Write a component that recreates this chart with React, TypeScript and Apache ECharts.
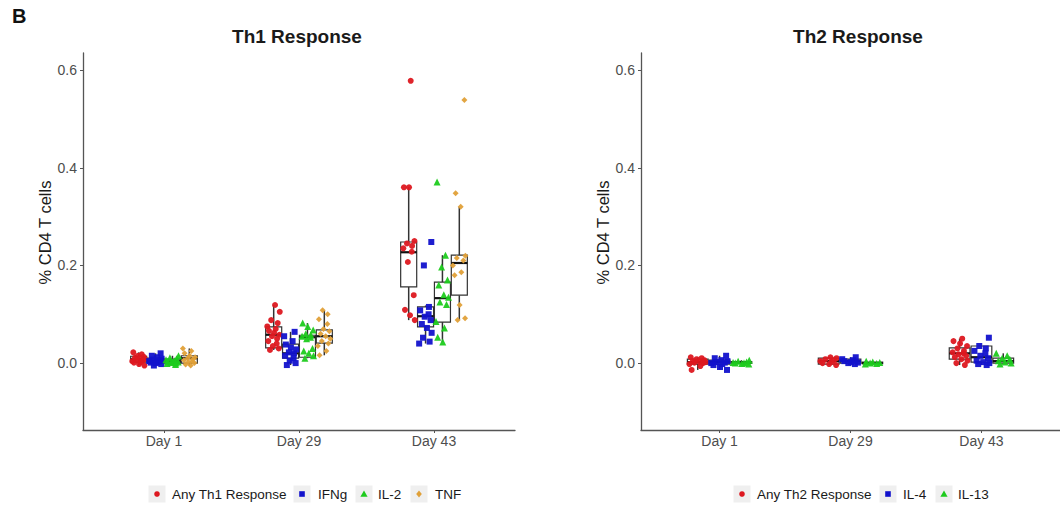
import React, { useEffect, useRef } from "react";
import * as echarts from "echarts";

// ---------------- data ----------------
const DAYS = ["Day 1", "Day 29", "Day 43"];
const Y_TICKS = [0, 0.2, 0.4, 0.6];
const Y_MIN = -0.137;
const Y_MAX = 0.635;

const TH1_NAMES = ["Any Th1 Response", "IFNg", "IL-2", "TNF"];
const TH2_NAMES = ["Any Th2 Response", "IL-4", "IL-13"];

// jittered observations, one list per day (Day 1, Day 29, Day 43)
const ANY_TH1 = [
  [0.022, 0.018, 0.015, 0.013, 0.011, 0.009, 0.008, 0.007, 0.005, 0.004, 0.002, 0.001, -0.002, -0.005],
  [0.119, 0.105, 0.088, 0.082, 0.075, 0.07, 0.066, 0.062, 0.058, 0.055, 0.05, 0.045, 0.04, 0.035, 0.03, 0.027],
  [0.578, 0.36, 0.36, 0.25, 0.245, 0.24, 0.235, 0.228, 0.207, 0.139, 0.109, 0.098, 0.088],
];
const IFNG = [
  [0.02, 0.015, 0.012, 0.009, 0.007, 0.005, 0.004, 0.002, 0.001, 0, -0.002, -0.005],
  [0.064, 0.055, 0.045, 0.038, 0.032, 0.028, 0.022, 0.02, 0.015, 0.01, 0.005, 0.0, -0.004],
  [0.248, 0.2, 0.115, 0.108, 0.1, 0.095, 0.088, 0.08, 0.072, 0.062, 0.052, 0.044, 0.04],
];
const IL2 = [
  [0.015, 0.011, 0.009, 0.007, 0.005, 0.004, 0.003, 0.002, 0.001, 0, -0.001, -0.003],
  [0.082, 0.075, 0.068, 0.06, 0.058, 0.055, 0.053, 0.05, 0.03, 0.025, 0.02, 0.015, 0.01],
  [0.371, 0.221, 0.197, 0.17, 0.16, 0.14, 0.135, 0.125, 0.12, 0.085, 0.072, 0.053, 0.043],
];
const TNF = [
  [0.03, 0.025, 0.02, 0.015, 0.012, 0.01, 0.008, 0.006, 0.004, 0.002, 0, -0.003, -0.005],
  [0.108, 0.1, 0.09, 0.08, 0.07, 0.065, 0.06, 0.055, 0.05, 0.045, 0.04, 0.035, 0.025, 0.016],
  [0.539, 0.348, 0.32, 0.22, 0.215, 0.21, 0.2, 0.186, 0.18, 0.119, 0.092, 0.088],
];

const ANY_TH2 = [
  [0.012, 0.01, 0.008, 0.006, 0.004, 0.003, 0.002, 0.001, 0, -0.002, -0.006, -0.014],
  [0.012, 0.01, 0.008, 0.006, 0.004, 0.002, 0, -0.002, -0.004],
  [0.05, 0.045, 0.04, 0.035, 0.03, 0.025, 0.022, 0.02, 0.018, 0.015, 0.012, 0.008, 0.005, 0.0, -0.004],
];
const IL4 = [
  [0.015, 0.01, 0.006, 0.004, 0.002, 0.001, 0, -0.002, -0.004, -0.008, -0.014],
  [0.012, 0.008, 0.006, 0.004, 0.002, 0.001, 0, -0.002],
  [0.052, 0.035, 0.03, 0.025, 0.02, 0.015, 0.01, 0.005, 0.002, 0, -0.002, -0.004],
];
const IL13 = [
  [0.006, 0.004, 0.002, 0.001, 0, 0, -0.001, -0.002],
  [0.004, 0.002, 0.001, 0, -0.001, -0.002],
  [0.02, 0.015, 0.01, 0.008, 0.005, 0.002, 0, -0.002],
];

// box statistics per day: [lower whisker, Q1, median, Q3, upper whisker]
const ANY_TH1_BOX = [
  [-0.005, 0.002, 0.008, 0.014, 0.022],
  [0.027, 0.031, 0.058, 0.074, 0.119],
  [0.088, 0.156, 0.227, 0.248, 0.36],
];
const IFNG_BOX = [
  [-0.005, 0.0, 0.005, 0.01, 0.02],
  [-0.004, 0.01, 0.02, 0.039, 0.064],
  [0.04, 0.074, 0.096, 0.115, 0.118],
];
const IL2_BOX = [
  [-0.003, 0.0, 0.004, 0.008, 0.015],
  [0.01, 0.012, 0.053, 0.057, 0.082],
  [0.043, 0.084, 0.133, 0.166, 0.221],
];
const TNF_BOX = [
  [-0.005, 0.0, 0.01, 0.015, 0.03],
  [0.016, 0.041, 0.055, 0.068, 0.108],
  [0.088, 0.139, 0.205, 0.221, 0.32],
];
const ANY_TH2_BOX = [
  [-0.014, -0.002, 0.002, 0.008, 0.012],
  [-0.004, -0.002, 0.004, 0.01, 0.012],
  [-0.004, 0.008, 0.02, 0.031, 0.05],
];
const IL4_BOX = [
  [-0.014, -0.002, 0.002, 0.006, 0.015],
  [-0.002, 0.0, 0.004, 0.008, 0.012],
  [-0.004, 0.002, 0.012, 0.035, 0.035],
];
const IL13_BOX = [
  [-0.002, 0.0, 0.001, 0.003, 0.006],
  [-0.002, -0.001, 0.0, 0.002, 0.004],
  [-0.002, 0.0, 0.004, 0.01, 0.02],
];

// ---------------- styling ----------------
const COLORS1 = ["#dd1820", "#1212cc", "#1ecb1e", "#e0a038"];
const SYMBOLS1 = ["circle", "rect", "triangle", "diamond"];
const COLORS2 = ["#dd1820", "#1212cc", "#1ecb1e"];
const SYMBOLS2 = ["circle", "rect", "triangle"];
// fixed jitter pattern (fraction of a dodge slot)
const JITTER = [-0.32, 0.18, -0.05, 0.3, -0.22, 0.08, 0.36, -0.15, 0.24, -0.38, 0.12, -0.28, 0.02, 0.34, -0.1, 0.2];

const FONT = "Liberation Sans, Arial, Helvetica, sans-serif";
const AXIS_COLOR = "#555555";

function makePanel(
  gridIndex: number,
  names: string[],
  points: number[][][],
  boxes: number[][][],
  colors: string[],
  symbols: string[]
) {
  const n = names.length;
  const dodge = 0.5;
  const slot = dodge / n;
  const boxW = slot * 0.95;
  const series: any[] = [];
  const scatters: any[] = [];
  names.forEach((name, g) => {
    const off = -dodge / 2 + slot * (g + 0.5);
    const boxData = boxes[g].map((b, d) => [d + 1 + off, ...b]);
    series.push({
      type: "custom",
      name: name + " box",
      xAxisIndex: gridIndex,
      yAxisIndex: gridIndex,
      encode: { x: 0, y: [1, 2, 3, 4, 5] },
      data: boxData,
      silent: true,
      renderItem: (params: any, api: any) => {
        const x = api.value(0);
        const pLo = api.coord([x, api.value(1)]);
        const pQ1 = api.coord([x, api.value(2)]);
        const pMed = api.coord([x, api.value(3)]);
        const pQ3 = api.coord([x, api.value(4)]);
        const pHi = api.coord([x, api.value(5)]);
        const w = api.size([boxW, 0])[0];
        const cx = pLo[0];
        const stroke = "#333333";
        return {
          type: "group",
          children: [
            { type: "line", shape: { x1: cx, y1: pHi[1], x2: cx, y2: pQ3[1] }, style: { stroke, lineWidth: 1.5 } },
            { type: "line", shape: { x1: cx, y1: pQ1[1], x2: cx, y2: pLo[1] }, style: { stroke, lineWidth: 1.5 } },
            {
              type: "rect",
              shape: { x: cx - w / 2, y: pQ3[1], width: w, height: Math.max(pQ1[1] - pQ3[1], 0.5) },
              style: { fill: "#ffffff", stroke, lineWidth: 1.2 },
            },
            {
              type: "line",
              shape: { x1: cx - w / 2, y1: pMed[1], x2: cx + w / 2, y2: pMed[1] },
              style: { stroke: "#111111", lineWidth: 2.2 },
            },
          ],
        };
      },
    });
    const pts: number[][] = [];
    points[g].forEach((vals, d) => {
      vals.forEach((v, i) => {
        const j = JITTER[(i + g * 3 + d * 5) % JITTER.length];
        pts.push([d + 1 + off + j * slot, v]);
      });
    });
    scatters.push({
      type: "scatter",
      name,
      xAxisIndex: gridIndex,
      yAxisIndex: gridIndex,
      data: pts,
      symbol: symbols[g],
      symbolSize: symbols[g] === "triangle" ? 7 : 6,
      itemStyle: { color: colors[g], opacity: 0.95 },
      silent: true,
      z: 3,
    });
  });
  return [...series, ...scatters];
}

function legendSymbol(sym: string, cx: number, cy: number, color: string) {
  const style = { fill: color };
  if (sym === "circle") return { type: "circle", shape: { cx, cy, r: 2.8 }, style };
  if (sym === "rect") return { type: "rect", shape: { x: cx - 2.8, y: cy - 2.8, width: 5.6, height: 5.6 }, style };
  if (sym === "triangle")
    return { type: "polygon", shape: { points: [[cx, cy - 3.6], [cx + 3.6, cy + 2.8], [cx - 3.6, cy + 2.8]] }, style };
  return { type: "polygon", shape: { points: [[cx, cy - 3.4], [cx + 2.8, cy], [cx, cy + 3.4], [cx - 2.8, cy]] }, style };
}

function makeLegend(names: string[], colors: string[], symbols: string[], iconX: number[], textX: number[], cy: number) {
  const els: any[] = [];
  names.forEach((name, i) => {
    els.push({ type: "rect", shape: { x: iconX[i] - 8.5, y: cy - 8.5, width: 17, height: 17 }, style: { fill: "#efefef" } });
    els.push(legendSymbol(symbols[i], iconX[i], cy, colors[i]));
    els.push({
      type: "text",
      x: textX[i],
      y: cy,
      style: { text: name, fill: "#1a1a1a", font: `13.5px ${FONT}`, verticalAlign: "middle", align: "left" },
    });
  });
  return els;
}

function xAxisCfg(gridIndex: number) {
  return {
    type: "value",
    gridIndex,
    min: 0.4,
    max: 3.6,
    axisLine: { show: true, onZero: false, lineStyle: { color: AXIS_COLOR, width: 1.3 } },
    axisTick: { show: true, customValues: [1, 2, 3], length: 3, lineStyle: { color: AXIS_COLOR } },
    axisLabel: {
      customValues: [1, 2, 3],
      formatter: (v: number) => DAYS[Math.round(v) - 1],
      color: "#4d4d4d",
      fontSize: 14,
      fontFamily: FONT,
      margin: 4,
    },
    splitLine: { show: false },
  };
}

function yAxisCfg(gridIndex: number) {
  return {
    type: "value",
    gridIndex,
    min: Y_MIN,
    max: Y_MAX,
    name: "% CD4 T cells",
    nameLocation: "middle",
    nameRotate: 90,
    nameGap: 30,
    nameTextStyle: { color: "#1a1a1a", fontSize: 16.5, fontFamily: FONT, padding: [0, 0, 0, 18] },
    axisLine: { show: true, onZero: false, lineStyle: { color: AXIS_COLOR, width: 1.3 } },
    axisTick: { show: true, customValues: Y_TICKS, length: 3, lineStyle: { color: AXIS_COLOR } },
    axisLabel: {
      customValues: Y_TICKS,
      formatter: (v: number) => v.toFixed(1),
      color: "#4d4d4d",
      fontSize: 14,
      fontFamily: FONT,
      margin: 6,
    },
    splitLine: { show: false },
  };
}

export default function App() {
  const ref = useRef<HTMLDivElement>(null);
  useEffect(() => {
    if (!ref.current) return;
    const chart = echarts.init(ref.current, undefined, { renderer: "svg" });
    const option: any = {
      animation: false,
      backgroundColor: "#ffffff",
      textStyle: { fontFamily: FONT },
      title: [
        {
          text: "Th1 Response",
          left: 297,
          top: 27,
          textAlign: "center",
          padding: 0,
          textStyle: { fontSize: 19, fontWeight: "bold", color: "#1a1a1a", fontFamily: FONT },
        },
        {
          text: "Th2 Response",
          left: 858,
          top: 27,
          textAlign: "center",
          padding: 0,
          textStyle: { fontSize: 19, fontWeight: "bold", color: "#1a1a1a", fontFamily: FONT },
        },
      ],
      grid: [
        { left: 83, top: 53, width: 432, height: 377, containLabel: false },
        { left: 641, top: 53, width: 434, height: 377, containLabel: false },
      ],
      xAxis: [xAxisCfg(0), xAxisCfg(1)],
      yAxis: [yAxisCfg(0), yAxisCfg(1)],
      series: [
        ...makePanel(0, TH1_NAMES, [ANY_TH1, IFNG, IL2, TNF], [ANY_TH1_BOX, IFNG_BOX, IL2_BOX, TNF_BOX], COLORS1, SYMBOLS1),
        ...makePanel(1, TH2_NAMES, [ANY_TH2, IL4, IL13], [ANY_TH2_BOX, IL4_BOX, IL13_BOX], COLORS2, SYMBOLS2),
      ],
      graphic: [
        {
          type: "text",
          x: 12,
          y: 16,
          style: { text: "B", font: `bold 20px ${FONT}`, fill: "#111111", verticalAlign: "middle" },
        },
        ...makeLegend(TH1_NAMES, COLORS1, SYMBOLS1, [157, 302, 364, 419], [172, 318, 378, 435], 494),
        ...makeLegend(TH2_NAMES, COLORS2, SYMBOLS2, [742, 888, 944], [757, 903, 958], 494),
      ],
    };
    chart.setOption(option);
    return () => chart.dispose();
  }, []);
  return (
    <div
      ref={ref}
      style={{ position: "absolute", left: 0, top: 0, width: 1060, height: 505, background: "#fff" }}
    />
  );
}
